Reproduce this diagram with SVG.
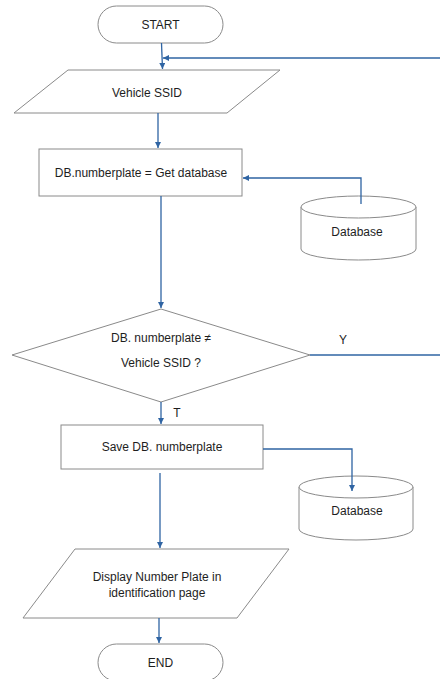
<svg xmlns="http://www.w3.org/2000/svg" width="440" height="679" viewBox="0 0 440 679">
<style>
.s{fill:#fff;stroke:#8a8a8a;stroke-width:1}
.t{font-family:"Liberation Sans",Arial,sans-serif;font-size:12px;fill:#1e1e1e;text-anchor:middle;dominant-baseline:central}
.c{fill:none;stroke:#2f64a3;stroke-width:1.3}
</style>
<defs>
<marker id="a" viewBox="0 0 10 10" refX="10" refY="5" markerWidth="6" markerHeight="6" markerUnits="userSpaceOnUse" orient="auto">
<path d="M0,0 L10,5 L0,10 z" fill="#2f64a3"/>
</marker>
</defs>
<rect width="440" height="679" fill="#fff"/>
<g id="start"><rect class="s" x="98" y="6" width="125" height="37" rx="18.5"/><text class="t" x="160.5" y="25">START</text></g>
<g id="vehicle"><polygon class="s" points="68,70 280,70 227,113 14,113"/><text class="t" x="147" y="93">Vehicle SSID</text></g>
<g id="getdb"><rect class="s" x="39" y="149" width="203" height="47"/><text class="t" x="141" y="173">DB.numberplate = Get database</text></g>
<g id="db1"><path class="s" d="M301,207 A57.5,11 0 0 1 416,207 L416,249 A57.5,11 0 0 1 301,249 Z"/><path class="s" d="M301,207 A57.5,11 0 0 0 416,207" fill="none"/><text class="t" x="357" y="232">Database</text></g>
<g id="decision"><polygon class="s" points="161,309 310,355 161,402 12,355"/><text class="t" x="161" y="338">DB. numberplate ≠</text><text class="t" x="161" y="363">Vehicle SSID ?</text></g>
<g id="save"><rect class="s" x="61" y="425" width="202" height="44"/><text class="t" x="162" y="447">Save DB. numberplate</text></g>
<g id="db2"><path class="s" d="M299,487 A57,11 0 0 1 413,487 L413,529 A57,11 0 0 1 299,529 Z"/><path class="s" d="M299,487 A57,11 0 0 0 413,487" fill="none"/><text class="t" x="357" y="511">Database</text></g>
<g id="display"><polygon class="s" points="75,549 289,549 237,618 23,618"/><text class="t" x="157" y="577">Display Number Plate in</text><text class="t" x="157" y="593">identification page</text></g>
<g id="end"><rect class="s" x="98" y="644" width="125" height="37" rx="18.5"/><text class="t" x="160.5" y="663">END</text></g>
<g id="connectors">
<path class="c" d="M161.5,43 L162.5,69" marker-end="url(#a)"/>
<path class="c" d="M440,58 L163,58" marker-end="url(#a)"/>
<path class="c" d="M158,113 L158,148" marker-end="url(#a)"/>
<path class="c" d="M361,204 L361,178 L243,178" marker-end="url(#a)"/>
<path class="c" d="M161,196 L161,308" marker-end="url(#a)"/>
<path class="c" d="M310,355 L440,355"/>
<path class="c" d="M161,402 L161,424" marker-end="url(#a)"/>
<path class="c" d="M263,449 L352,449 L352,491" marker-end="url(#a)"/>
<path class="c" d="M160,473 L160,548" marker-end="url(#a)"/>
<path class="c" d="M159,618 L159,643" marker-end="url(#a)"/>
<text class="t" x="343" y="340">Y</text>
<text class="t" x="177" y="413">T</text>
</g>
</svg>
